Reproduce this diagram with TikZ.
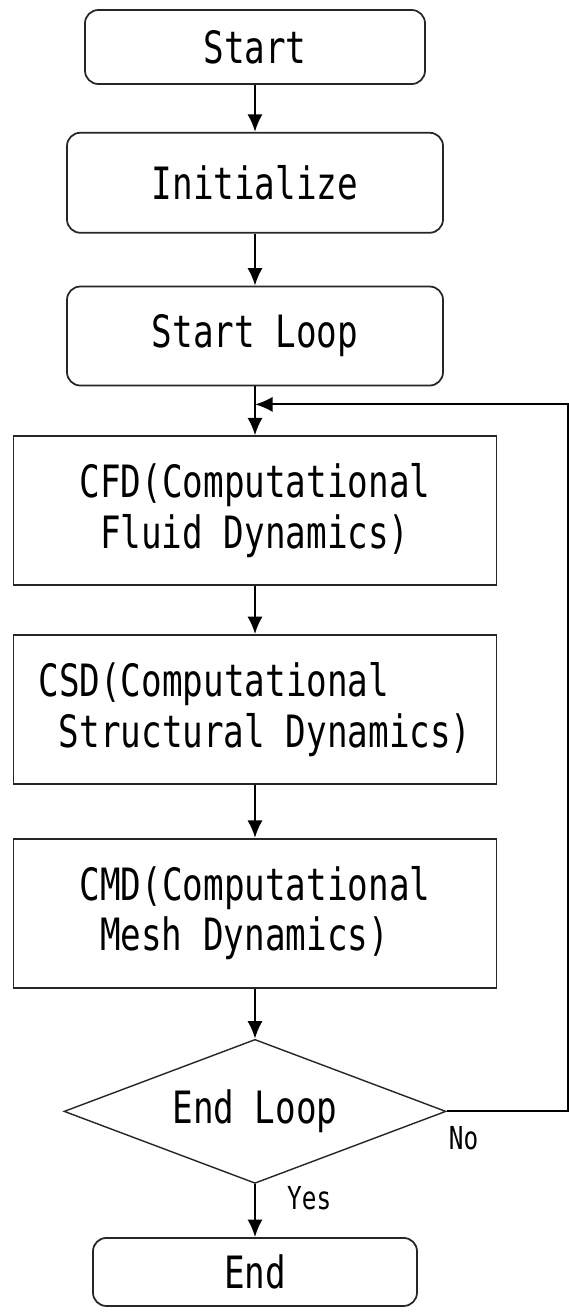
\documentclass[tikz,border=0pt]{standalone}
\usepackage{fontspec}
\newfontfamily\flowfont[FakeStretch=0.77]{DejaVu Sans Mono}
\usetikzlibrary{shapes.geometric, arrows.meta, positioning}

\begin{document}
\begin{tikzpicture}[font=\flowfont\fontsize{38}{43}\selectfont, node distance=1.5cm]
        \tikzstyle{term} = [rectangle, rounded corners=0.4cm, text centered, draw=black!85, line width=1.5pt]
        \tikzstyle{process} = [rectangle, minimum width=14.49cm, minimum height=4.47cm, align=left, draw=black!85, line width=1.5pt]
        \tikzstyle{decision} = [diamond, shape aspect=2.65, minimum width=11.46cm, minimum height=4.32cm, inner sep=0pt, text centered, draw=black!85, line width=1.2pt]
        \tikzstyle{arrow} = [line width=1.8pt, -{Latex[length=15pt,width=13pt]}]
        \tikzstyle{lbl} = [font=\flowfont\fontsize{27}{32}\selectfont, inner sep=0pt]

                \useasboundingbox (0,0) rectangle (17.07,-39.39);

                \node (start) [term, minimum width=10.2cm, minimum height=2.22cm] at (7.65,-1.41) {Start};
                \node (init) [term, minimum width=11.28cm, minimum height=3cm, below=1.41cm of start] {Initialize};
                \node (sloop) [term, minimum width=11.28cm, minimum height=2.97cm, below=1.56cm of init] {Start Loop};
                \node (cfd) [process, below=1.47cm of sloop] {CFD(Computational\\\hspace*{0.46em}Fluid Dynamics)};
                \node (csd) [process, below=1.44cm of cfd] {CSD(Computational\\\hspace*{0.46em}Structural Dynamics)};
                \node (cmd) [process, below=1.59cm of csd] {CMD(Computational\\\hspace*{0.46em}Mesh Dynamics)};
                \node (endloop) [decision, below=1.5cm of cmd] {End Loop};
                \node (stop) [term, minimum width=9.72cm, minimum height=2.04cm, below=1.59cm of endloop] {End};

                \node (no) [lbl, right=0.06cm of endloop.east, yshift=-0.81cm] {No};
                \node (yes) [lbl, right=0.96cm of endloop.south, yshift=-0.42cm] {Yes};

                \coordinate [below=0.54cm of sloop] (join);
                \coordinate [right=3.63cm of endloop.east] (turn);

                \draw[arrow] (start) -- (init);
                \draw[arrow] (init) -- (sloop);
                \draw[arrow] (sloop) -- (cfd);
                \draw[arrow] (cfd) -- (csd);
                \draw[arrow] (csd) -- (cmd);
                \draw[arrow] (cmd) -- (endloop);
                \draw[arrow] (endloop) -- (stop);
                \draw[arrow] (endloop.east) -- (turn) |- (join);

    \end{tikzpicture}
\end{document}
